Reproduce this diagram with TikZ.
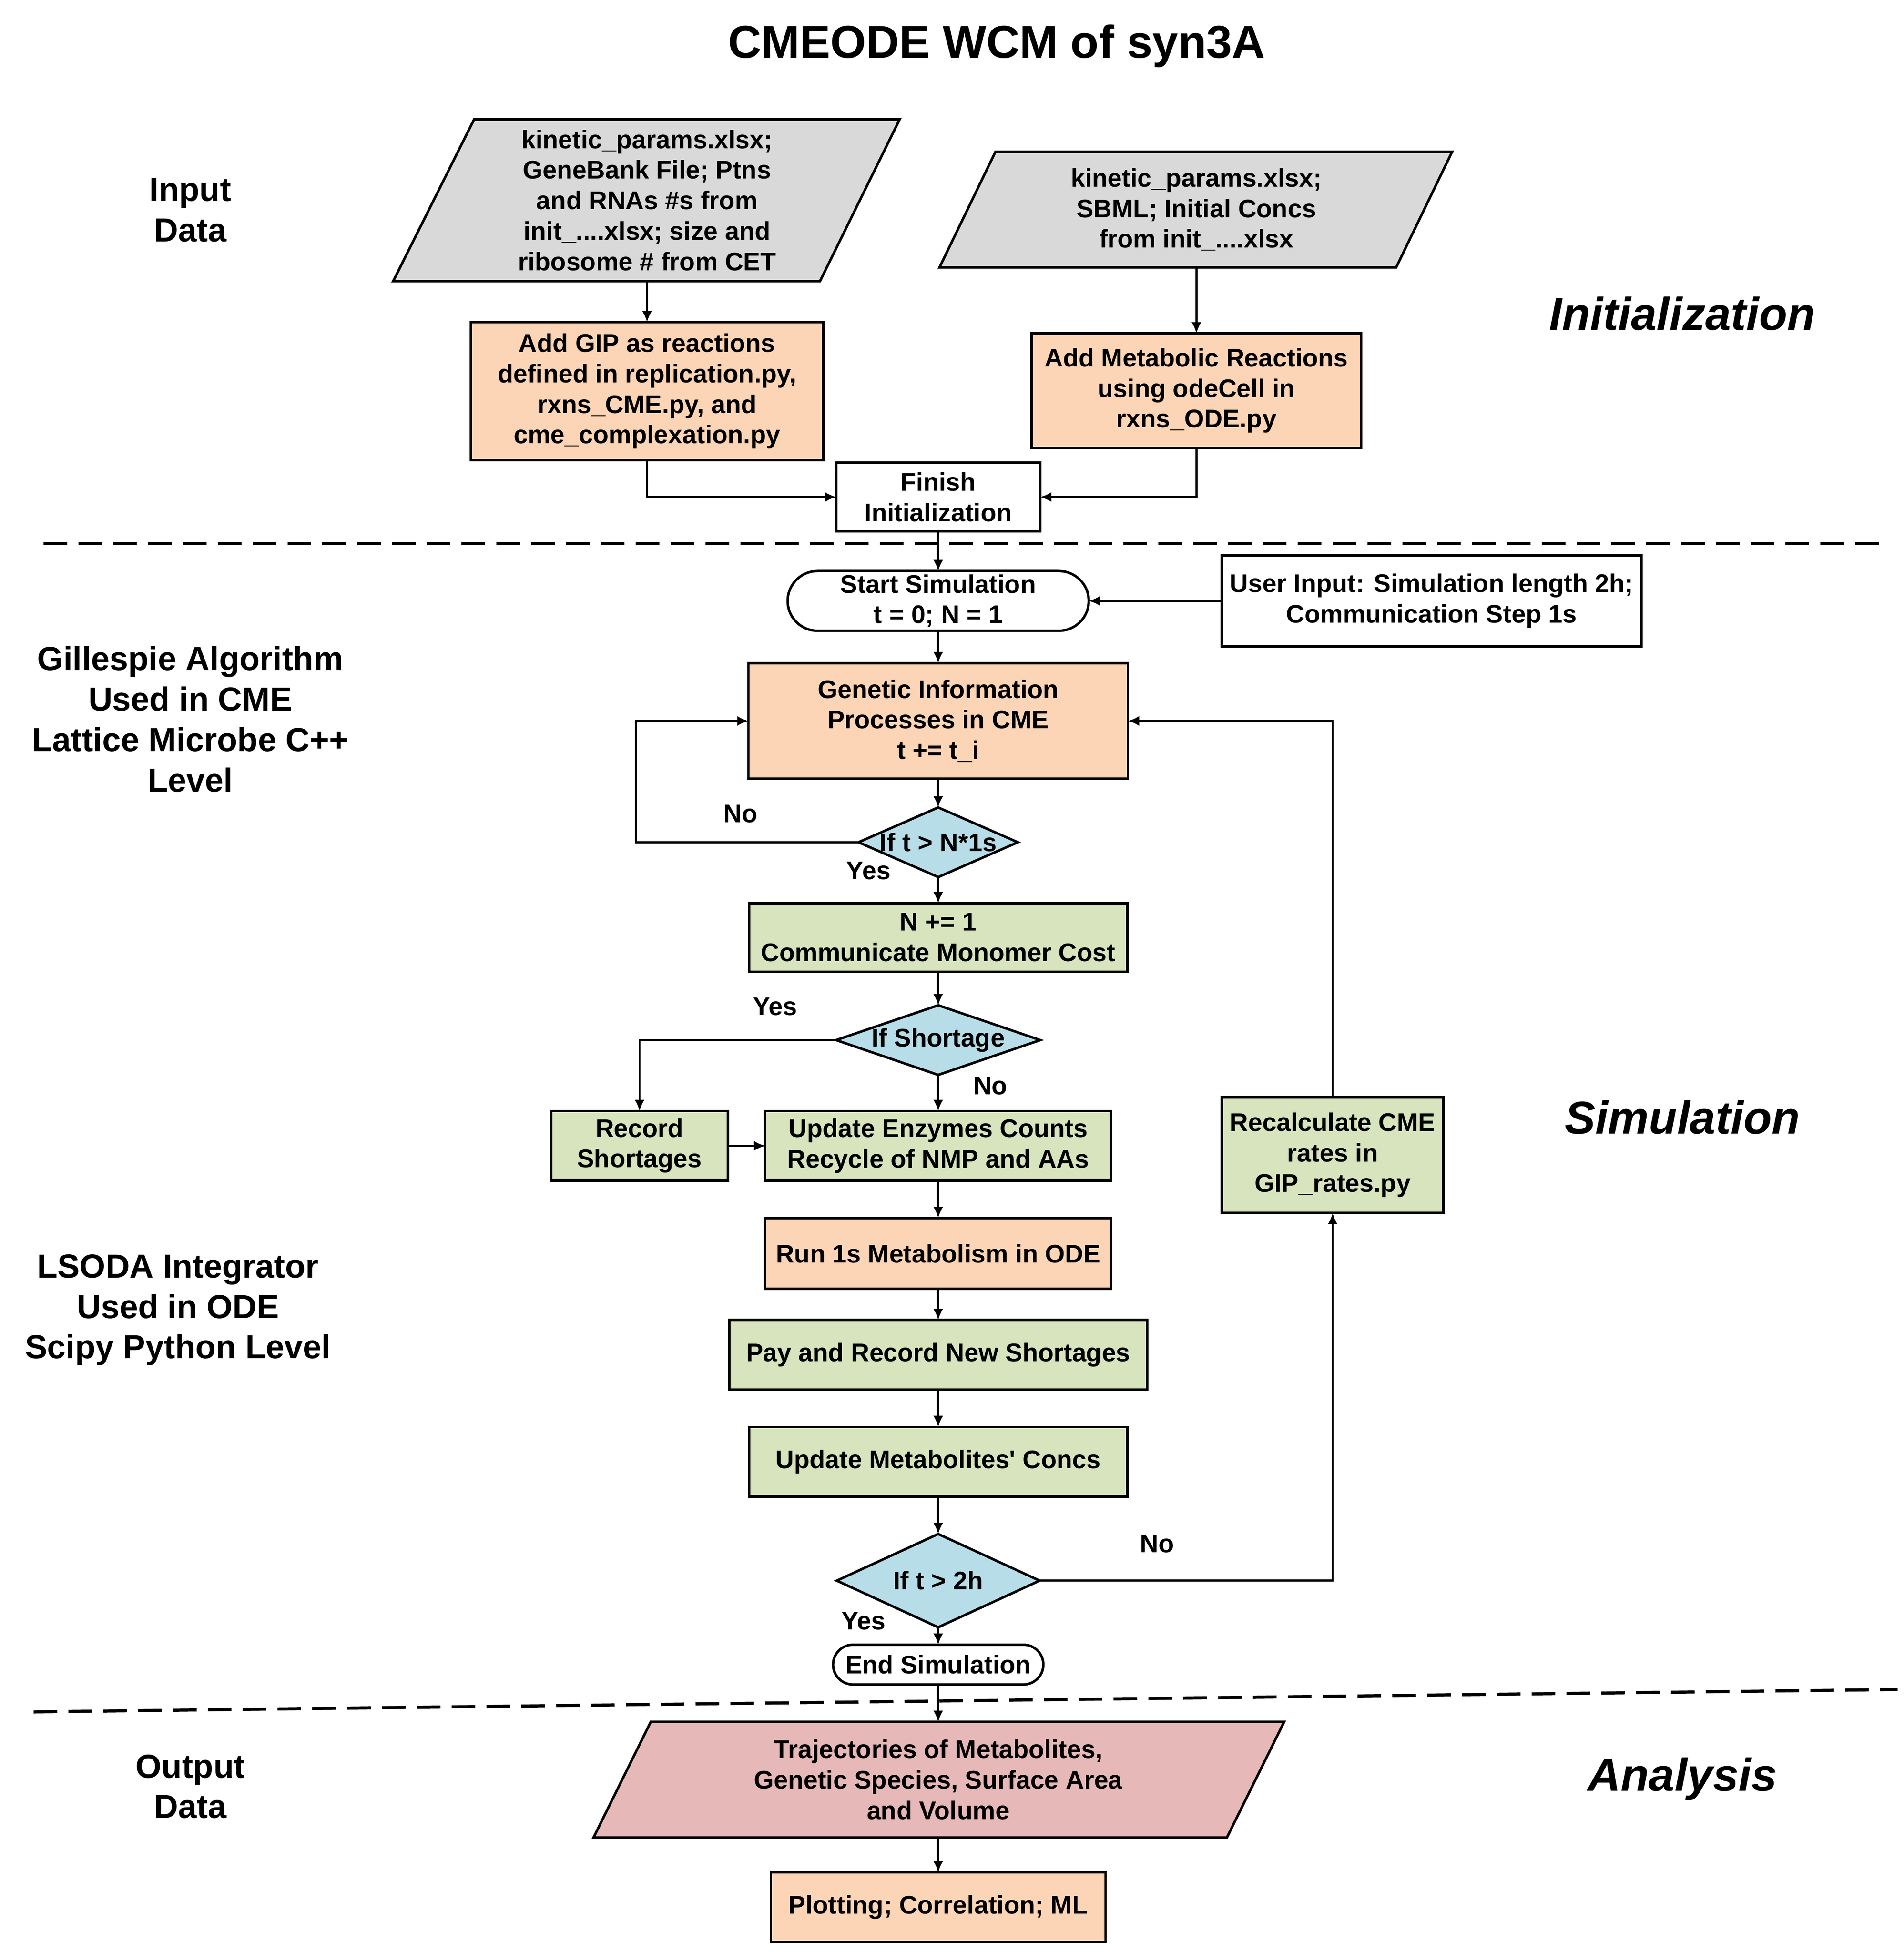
\documentclass[tikz,border=0pt]{standalone}
\usepackage{fontspec}
\setmainfont{Liberation Sans}
\usetikzlibrary{shapes.geometric,shapes.misc,arrows.meta}

\definecolor{grayfill}{HTML}{D9D9D9}
\definecolor{orangefill}{HTML}{FBD5B5}
\definecolor{greenfill}{HTML}{D7E4BD}
\definecolor{bluefill}{HTML}{B7DEE8}
\definecolor{pinkfill}{HTML}{E6B9B8}

\newcommand\boxfont{\bfseries\fontsize{20.5}{24.5}\selectfont}
\newcommand\sidefont{\bfseries\fontsize{26.8}{32.5}\selectfont}
\newcommand\headfont{\bfseries\fontsize{37}{44}\selectfont}

\tikzset{
  box/.style={draw, line width=2pt, rectangle, align=center, inner sep=0pt, outer sep=0pt, font=\boxfont},
  cmebox/.style={box, fill=orangefill},
  odebox/.style={box, fill=greenfill},
  plainbox/.style={box, fill=white},
  termbox/.style={box, rounded rectangle, fill=white},
  iotext/.style={box, draw=none},
  decide/.style={draw, line width=2pt, diamond, fill=bluefill, inner sep=0pt, outer sep=0pt},
  arr/.style={line width=1.6pt, -{Latex[length=9pt,width=8pt]}},
  sep/.style={line width=2.5pt, dash pattern=on 19pt off 9pt},
  side/.style={font=\sidefont, align=center},
  phase/.style={font=\headfont\itshape},
  tag/.style={font=\boxfont},
}

\begin{document}
\begin{tikzpicture}[x=1pt,y=-1pt]
\useasboundingbox (0,0) rectangle (1530,1569);

\node[font=\headfont] (title) at (801,37) {CMEODE WCM of syn3A};

% left side labels
\node[side] (lin) at (153,169) {Input\\Data};
\node[side] (lcme) at (153,578) {Gillespie Algorithm\\Used in CME\\Lattice Microbe C++\\Level};
\node[side] (lode) at (143,1053) {LSODA Integrator\\Used in ODE\\Scipy Python Level};
\node[side] (lout) at (153,1436) {Output\\Data};

% right side labels
\node[phase] (pinit) at (1352,252) {Initialization};
\node[phase] (psim) at (1352,898) {Simulation};
\node[phase] (pana) at (1352,1430) {Analysis};

% separators
\draw[sep] (35,437) -- (1510,437);
\draw[sep] (27,1376) -- (1525,1358);

% initialization
\filldraw[fill=grayfill, line width=2pt] (316,226) -- (381,96) -- (723,96) -- (659,226) -- cycle;
\node[iotext, minimum height=130] (in1) at (520,161) {kinetic\_params.xlsx;\\GeneBank File; Ptns\\and RNAs \#s from\\init\_....xlsx; size and\\ribosome \# from CET};
\filldraw[fill=grayfill, line width=2pt] (755,215) -- (800,122) -- (1167,122) -- (1122,215) -- cycle;
\node[iotext, minimum height=93] (in2) at (961.5,168.5) {kinetic\_params.xlsx;\\SBML; Initial Concs\\from init\_....xlsx};

\node[cmebox, minimum width=283, minimum height=111] (gip) at (520,314.5) {Add GIP as reactions\\defined in replication.py,\\rxns\_CME.py, and\\cme\_complexation.py};
\node[cmebox, minimum width=265, minimum height=92] (met) at (961.5,314) {Add Metabolic Reactions\\using odeCell in\\rxns\_ODE.py};
\node[plainbox, minimum width=164, minimum height=55] (fin) at (754,399.5) {Finish\\Initialization};

% simulation
\node[termbox, minimum width=242, minimum height=48] (start) at (754,483) {Start Simulation\\t = 0; N = 1};
\node[plainbox, minimum width=337, minimum height=73] (user) at (1150.5,483) {User Input: Simulation length 2h;\\Communication Step 1s};
\node[cmebox, minimum width=305, minimum height=93] (gen) at (754,579.5) {Genetic Information\\Processes in CME\\t += t\_i};
\node[decide, minimum width=128, minimum height=56] (d1) at (754,677) {};
\node[tag] at (d1) {If t > N*1s};
\node[odebox, minimum width=304, minimum height=55] (nbox) at (754,753.5) {N += 1\\Communicate Monomer Cost};
\node[decide, minimum width=164, minimum height=56] (d2) at (754,836) {};
\node[tag] at (d2) {If Shortage};
\node[odebox, minimum width=142, minimum height=56] (rec) at (514,921) {Record\\Shortages};
\node[odebox, minimum width=278, minimum height=56] (upd) at (754,921) {Update Enzymes Counts\\Recycle of NMP and AAs};
\node[cmebox, minimum width=278, minimum height=57] (run) at (754,1007.5) {Run 1s Metabolism in ODE};
\node[odebox, minimum width=336, minimum height=56] (pay) at (754,1089) {Pay and Record New Shortages};
\node[odebox, minimum width=304, minimum height=56] (conc) at (754,1175) {Update Metabolites\textquotesingle{} Concs};
\node[decide, minimum width=163, minimum height=75] (d3) at (754,1270.5) {};
\node[tag] at (d3) {If t > 2h};
\node[odebox, minimum width=178, minimum height=93] (rcl) at (1071,928.5) {Recalculate CME\\rates in\\GIP\_rates.py};
\node[termbox, minimum width=169, minimum height=32] (endsim) at (754,1338) {End Simulation};

% analysis
\filldraw[fill=pinkfill, line width=2pt] (477,1477) -- (523,1384) -- (1032,1384) -- (986,1477) -- cycle;
\node[iotext, minimum height=93] (out) at (754,1430.5) {Trajectories of Metabolites,\\Genetic Species, Surface Area\\and Volume};
\node[cmebox, minimum width=269, minimum height=56] (plot) at (754,1533) {Plotting; Correlation; ML};

% branch labels
\node[tag] (no1) at (595,654) {No};
\node[tag] (yes1) at (698,700) {Yes};
\node[tag] (yes2) at (623,809) {Yes};
\node[tag] (no2) at (796,873) {No};
\node[tag] (no3) at (930,1241) {No};
\node[tag] (yes3) at (694,1303) {Yes};

% connectors
\draw[arr] (in1.south) -- (gip.north);
\draw[arr] (in2.south) -- (met.north);
\draw[arr] (gip.south) |- (fin.west);
\draw[arr] (met.south) |- (fin.east);
\draw[arr] (fin.south) -- (start.north);
\draw[arr] (user.west) -- (start.east);
\draw[arr] (start.south) -- (gen.north);
\draw[arr] (gen.south) -- (d1.north);
\draw[arr] (d1.west) -- ++(-179,0) |- (gen.west);
\draw[arr] (d1.south) -- (nbox.north);
\draw[arr] (nbox.south) -- (d2.north);
\draw[arr] (d2.west) -| (rec.north);
\draw[arr] (d2.south) -- (upd.north);
\draw[arr] (rec.east) -- (upd.west);
\draw[arr] (upd.south) -- (run.north);
\draw[arr] (run.south) -- (pay.north);
\draw[arr] (pay.south) -- (conc.north);
\draw[arr] (conc.south) -- (d3.north);
\draw[arr] (d3.east) -| (rcl.south);
\draw[arr] (rcl.north) |- (gen.east);
\draw[arr] (d3.south) -- (endsim.north);
\draw[arr] (endsim.south) -- (out.north);
\draw[arr] (out.south) -- (plot.north);
\end{tikzpicture}
\end{document}
